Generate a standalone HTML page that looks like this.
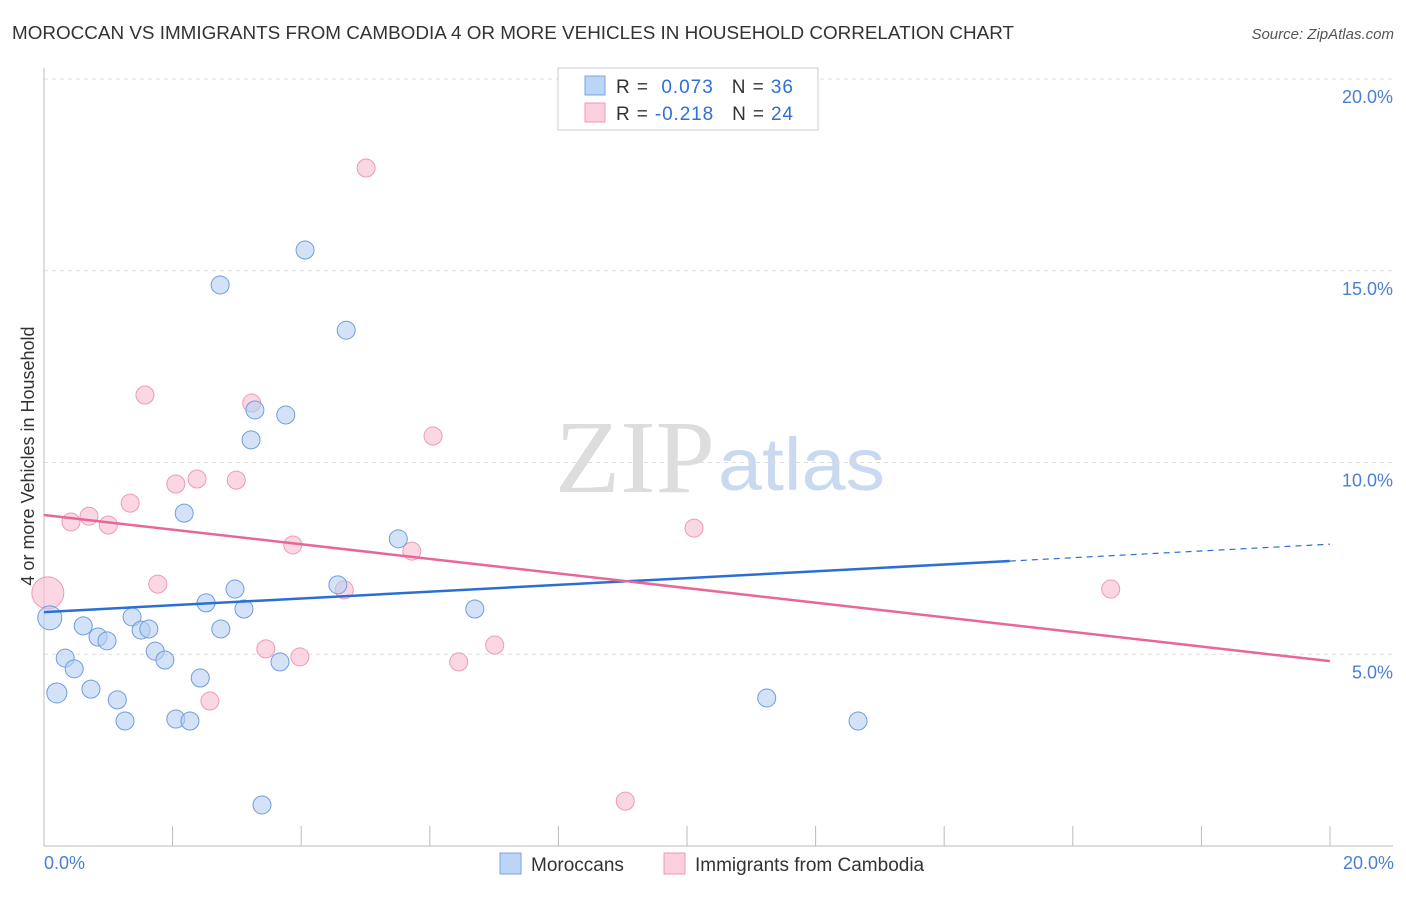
<!DOCTYPE html>
<html><head><meta charset="utf-8"><style>
body{margin:0;background:#fff;font-family:"Liberation Sans",sans-serif;}
svg text{font-family:"Liberation Sans",sans-serif;}
</style></head><body>
<svg id="chart" width="1406" height="892" viewBox="0 0 1406 892" xmlns="http://www.w3.org/2000/svg">
<text x="12" y="39" font-size="18" fill="#333" textLength="1002" lengthAdjust="spacingAndGlyphs">MOROCCAN VS IMMIGRANTS FROM CAMBODIA 4 OR MORE VEHICLES IN HOUSEHOLD CORRELATION CHART</text>
<text x="1394" y="39" font-size="15" fill="#555" font-style="italic" text-anchor="end">Source: ZipAtlas.com</text>
<text x="555" y="492" font-size="104" fill="#ddd" textLength="160" lengthAdjust="spacingAndGlyphs" style="font-family:'Liberation Serif',serif">ZIP</text>
<text x="718" y="490" font-size="74" fill="#c9d9f0" textLength="167" lengthAdjust="spacingAndGlyphs">atlas</text>
<g id="grid"></g>
<g id="marks"></g>
<text transform="translate(34,456) rotate(-90)" font-size="18" fill="#333" text-anchor="middle">4 or more Vehicles in Household</text>
<text x="44" y="869" font-size="18" fill="#4a7fd4">0.0%</text>
<text x="1394" y="869" font-size="18" fill="#4a7fd4" text-anchor="end">20.0%</text>
<g>
<rect x="558" y="68" width="260" height="62" fill="#fff" stroke="#ccc"/>
<rect x="585" y="76" width="20" height="19" fill="#bcd4f5" stroke="#7aa4e0"/>
<rect x="585" y="103" width="20" height="19" fill="#bcd4f5" stroke="#7aa4e0" style="fill:#fbcfdc;stroke:#ee9ab5"/>
<text x="616" y="93" font-size="19" fill="#333" textLength="177" lengthAdjust="spacing">R = <tspan fill="#2f6fd6">&#160;0.073</tspan><tspan dx="18">N = </tspan><tspan fill="#2f6fd6">36</tspan></text>
<text x="616" y="120" font-size="19" fill="#333" textLength="177" lengthAdjust="spacing">R = <tspan fill="#2f6fd6">-0.218</tspan><tspan dx="18">N = </tspan><tspan fill="#2f6fd6">24</tspan></text>
</g>
<g>
<rect x="500" y="853" width="21" height="21" fill="#bcd4f5" stroke="#7aa4e0"/>
<text x="531" y="871" font-size="19" fill="#333">Moroccans</text>
<rect x="664" y="853" width="21" height="21" fill="#fbcfdc" stroke="#ee9ab5"/>
<text x="695" y="871" font-size="19" fill="#333">Immigrants from Cambodia</text>
</g>
</svg>
<script>
const yTicks=[5,10,15,20];
const yTickLabels=["5.0%","10.0%","15.0%","20.0%"];
const xTicks=[0,2,4,6,8,10,12,14,16,18,20];
const blueX=[0.09,0.2,0.33,0.47,0.61,0.73,0.84,0.98,1.14,1.26,1.37,1.51,1.63,1.73,1.88,2.05,2.18,2.27,2.43,2.52,2.74,2.75,2.97,3.11,3.22,3.28,3.39,3.67,3.76,4.06,4.57,4.70,5.51,6.70,11.24,12.66];
const blueY=[5.95,3.99,4.90,4.62,5.74,4.09,5.45,5.35,3.81,3.26,5.97,5.63,5.66,5.08,4.85,3.31,8.68,3.26,4.38,6.34,14.63,5.66,6.70,6.18,10.59,11.37,1.07,4.80,11.24,15.54,6.81,13.45,8.01,6.18,3.86,3.26];
const blueR=[12,10,9,9,9,9,9,9,9,9,9,9,9,9,9,9,9,9,9,9,9,9,9,9,9,9,9,9,9,9,9,9,9,9,9,9];
const pinkX=[0.06,0.42,0.70,1.00,1.34,1.57,1.77,2.05,2.38,2.58,2.99,3.23,3.45,3.87,3.98,4.67,5.01,5.72,6.05,6.45,7.01,9.04,10.11,16.59];
const pinkY=[6.60,8.45,8.60,8.37,8.94,11.76,6.83,9.44,9.57,3.78,9.54,11.55,5.14,7.85,4.93,6.68,17.68,7.69,10.69,4.80,5.24,1.17,8.29,6.70];
const pinkR=[16,9,9,9,9,9,9,9,9,9,9,9,9,9,9,9,9,9,9,9,9,9,9,9];
const blueTrend=[6.10,7.43,7.87]; const blueTrendX=[0,15.02,20];
const pinkTrend=[8.63,4.82]; const pinkTrendX=[0,20];

const NS="http://www.w3.org/2000/svg";
const xs=v=>44+v*64.3;
const ys=v=>846-v*38.35;
function mk(t,a,p){const e=document.createElementNS(NS,t);for(const k in a)e.setAttribute(k,a[k]);p.appendChild(e);return e;}
const grid=document.getElementById('grid'), marks=document.getElementById('marks');
yTicks.forEach((t,i)=>{
 const l=mk('line',{x1:44,x2:1393,y1:ys(t),y2:ys(t),stroke:'#ddd','stroke-dasharray':'4,4'},grid);
 
 
 const tx=mk('text',{x:1393,y:ys(t)+24,'font-size':18,fill:'#4a7fd4','text-anchor':'end'},grid);
 tx.textContent=yTickLabels[i];
 
 
});
const ax=mk('line',{x1:44,x2:1393,y1:846,y2:846,stroke:'#bbb'},grid);


const ay=mk('line',{x1:44,x2:44,y1:68,y2:846,stroke:'#bbb'},grid);


xTicks.forEach(t=>{
 const l=mk('line',{x1:xs(t),x2:xs(t),y1:826,y2:846,stroke:'#bbb'},grid);
 
 
});
pinkX.forEach((x,i)=>{
 const c=mk('circle',{cx:xs(x),cy:ys(pinkY[i]),r:pinkR[i],fill:'#f8bcd0','fill-opacity':0.6,stroke:'#ee9ab5','stroke-width':1},marks);
 
 
});
blueX.forEach((x,i)=>{
 const c=mk('circle',{cx:xs(x),cy:ys(blueY[i]),r:blueR[i],fill:'#b5cff2','fill-opacity':0.6,stroke:'#6f9ddd','stroke-width':1},marks);
 
 
});
const bl=mk('line',{x1:xs(blueTrendX[0]),y1:ys(blueTrend[0]),x2:xs(blueTrendX[1]),y2:ys(blueTrend[1]),stroke:'#2c6fd4','stroke-width':2.5},marks);


const bd=mk('line',{x1:xs(blueTrendX[1]),y1:ys(blueTrend[1]),x2:xs(blueTrendX[2]),y2:ys(blueTrend[2]),stroke:'#2c6fd4','stroke-width':1.2,'stroke-dasharray':'6,5'},marks);


const pl=mk('line',{x1:xs(pinkTrendX[0]),y1:ys(pinkTrend[0]),x2:xs(pinkTrendX[1]),y2:ys(pinkTrend[1]),stroke:'#e8679a','stroke-width':2.5},marks);


</script>
</body></html>
